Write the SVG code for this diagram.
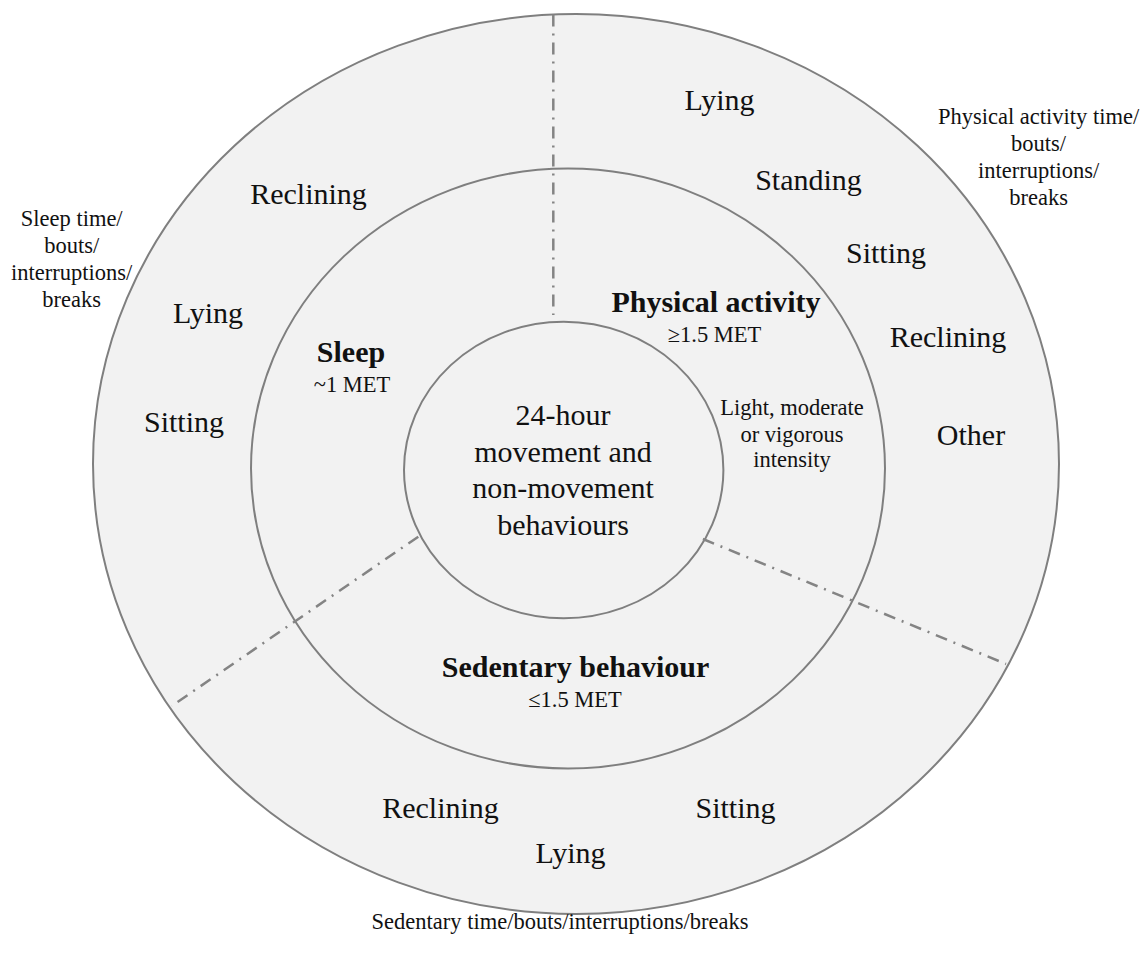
<svg xmlns="http://www.w3.org/2000/svg" width="1147" height="953" viewBox="0 0 1147 953">
<style>
.ring{fill:#f2f2f2;stroke:#7f7f7f;stroke-width:2}
.div{stroke:#848484;stroke-width:2.5;stroke-dasharray:12 7 2 7;fill:none}
text{font-family:"Liberation Serif","Times New Roman",serif;fill:#111;text-anchor:middle}
.big{font-size:30px}
.bold{font-size:30px;font-weight:bold}
.small{font-size:22.5px}
</style>
<rect width="1147" height="953" fill="#ffffff"/>
<g id="outer-ring"><ellipse class="ring" cx="576" cy="464" rx="483" ry="450"/></g>
<g id="middle-ring"><ellipse class="ring" cx="568" cy="468.5" rx="317" ry="300"/></g>
<g id="core">
<ellipse class="ring" cx="563.7" cy="470" rx="159.7" ry="148.3"/>
<text class="big" x="563" y="425">24-hour</text>
<text class="big" x="563" y="462">movement and</text>
<text class="big" x="563" y="498">non-movement</text>
<text class="big" x="563" y="535">behaviours</text>
</g>
<g id="connectors">
<line class="div" x1="553.3" y1="14.5" x2="553.3" y2="315"/>
<line class="div" x1="418.3" y1="536.7" x2="171.7" y2="706"/>
<line class="div" x1="702.9" y1="539" x2="1006" y2="664"/>
</g>
<g id="sleep">
<text class="bold" x="351" y="362">Sleep</text>
<text class="small" x="352" y="392">~1 MET</text>
</g>
<g id="physical-activity">
<text class="bold" x="716" y="311.7">Physical activity</text>
<text class="small" x="714.5" y="341.7">≥1.5 MET</text>
<text class="small" x="792" y="415">Light, moderate</text>
<text class="small" x="792" y="442">or vigorous</text>
<text class="small" x="792" y="467">intensity</text>
</g>
<g id="sedentary">
<text class="bold" x="575.5" y="676.7">Sedentary behaviour</text>
<text class="small" x="575" y="706.7">≤1.5 MET</text>
</g>
<g id="sleep-postures">
<text class="big" x="308.5" y="204">Reclining</text>
<text class="big" x="208" y="323">Lying</text>
<text class="big" x="184" y="431.7">Sitting</text>
</g>
<g id="pa-postures">
<text class="big" x="719.5" y="110">Lying</text>
<text class="big" x="808.5" y="190">Standing</text>
<text class="big" x="886" y="263">Sitting</text>
<text class="big" x="948" y="346.7">Reclining</text>
<text class="big" x="971" y="445">Other</text>
</g>
<g id="sedentary-postures">
<text class="big" x="440.5" y="818.3">Reclining</text>
<text class="big" x="570.5" y="863.3">Lying</text>
<text class="big" x="735.5" y="818.3">Sitting</text>
</g>
<g id="sleep-metrics">
<text class="small" x="71.7" y="226">Sleep time/</text>
<text class="small" x="71.7" y="253">bouts/</text>
<text class="small" x="71.7" y="280">interruptions/</text>
<text class="small" x="71.7" y="307">breaks</text>
</g>
<g id="pa-metrics">
<text class="small" x="1038.6" y="124">Physical activity time/</text>
<text class="small" x="1038.6" y="151">bouts/</text>
<text class="small" x="1038.6" y="178">interruptions/</text>
<text class="small" x="1038.6" y="205">breaks</text>
</g>
<g id="sedentary-metrics">
<text class="small" x="560" y="929">Sedentary time/bouts/interruptions/breaks</text>
</g>
</svg>
